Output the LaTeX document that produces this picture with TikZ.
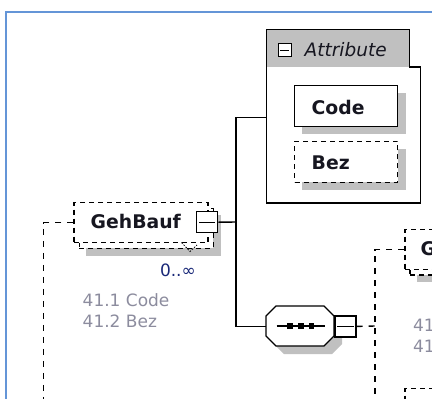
\documentclass[tikz,border=0pt]{standalone}
\usepackage{fontspec}
\setmainfont{DejaVu Sans}
\definecolor{framebl}{RGB}{100,149,215}
\definecolor{shgray}{RGB}{192,192,192}
\definecolor{tabgray}{RGB}{192,192,192}
\definecolor{txt}{RGB}{22,22,32}
\definecolor{navy}{RGB}{25,40,120}
\definecolor{labgray}{RGB}{140,140,158}
\begin{document}
\begin{tikzpicture}[x=1bp,y=-1bp,
  conn/.style={line width=1.4bp, draw=black},
  dconn/.style={line width=1.4bp, draw=black, dash pattern=on 6bp off 6bp},
  box/.style={rectangle, inner sep=0pt, anchor=north west, line width=1.4bp, fill=white, draw=black},
  dbox/.style={box, dash pattern=on 5bp off 4bp},
  shadowfill/.style={fill=shgray, draw=none},
  elname/.style={font=\fontsize{18.8bp}{22bp}\selectfont\bfseries, text=txt, inner sep=0pt, anchor=base west},
  lab/.style={font=\fontsize{17bp}{20bp}\selectfont, text=labgray, inner sep=0pt, anchor=base west},
  occ/.style={font=\fontsize{17bp}{20bp}\selectfont, text=navy, inner sep=0pt, anchor=base east},
  attrtitle/.style={font=\fontsize{18.5bp}{22bp}\selectfont\itshape, text=txt, inner sep=0pt, anchor=base west}
]
\useasboundingbox (0,0) rectangle (432,399);
\clip (0,0) rectangle (432,399);
\fill[white] (0,0) rectangle (432,399);

% outer blue frame
\draw[framebl, line width=2bp] (6.2,405) -- (6.2,11.8) -- (440,11.8);

% ---------- Attribute container ----------
\fill[tabgray] (266.7,29.3) rectangle (409.3,67);
\draw[conn] (266.7,203) -- (266.7,29.3) -- (409.3,29.3) -- (409.3,67) -- (420.7,67) -- (420.7,203) -- cycle;
\coordinate (attrIn) at (266.7,117.3);
\node[box, minimum size=13bp, line width=1.2bp] (attrM) at (277.5,43) {};
\draw[line width=1.2bp] ([xshift=2.5bp]attrM.west) -- ([xshift=-2.5bp]attrM.east);
\node[attrtitle] (attrT) at (304.5,56) {Attribute};

% Code attribute (required)
\fill[shadowfill] (302,93) rectangle (405.5,133.5);
\node[box, minimum width=103bp, minimum height=40.7bp] (code) at (294,85) {};
\node[elname] (codeT) at (311.5,114) {Code};

% Bez attribute (optional)
\fill[shadowfill] (302,148.7) rectangle (405.5,189.7);
\node[dbox, minimum width=103bp, minimum height=41bp] (bez) at (294,140.7) {};
\node[elname] (bezT) at (311.5,169.5) {Bez};

% ---------- GehBauf element (0..inf) ----------
\fill[shadowfill] (86,215) rectangle (220.5,255.5);
\node[dbox, minimum width=134bp, minimum height=40bp] (gehB) at (78.5,207.5) {};
\node[dbox, minimum width=134bp, minimum height=40bp] (geh) at (73.3,202) {};
\node[elname] (gehT) at (90.5,228.7) {GehBauf};
\draw[line width=0.8bp, dash pattern=on 1.5bp off 1.5bp] (181.5,242.5) -- (190,251.5) -- (197,245);
\node[box, minimum size=21bp] (gehM) at (196,211) {};
\draw[line width=1.4bp] ([xshift=3bp]gehM.west) -- ([xshift=-3bp]gehM.east);
\node[occ] (gehOcc) at (196,276.5) {0..∞};
\node[lab] (gehL1) at (82.5,306) {41.1 Code};
\node[lab] (gehL2) at (82.5,327.5) {41.2 Bez};

% ---------- sequence compositor ----------
\fill[shadowfill] (284,314) -- (332,314) -- (342,324) -- (342,344) -- (332,354) -- (284,354) -- (274,344) -- (274,324) -- cycle;
\node[rectangle, inner sep=0pt, minimum width=68bp, minimum height=40bp, anchor=north west] (seq) at (266,306) {};
\draw[conn, fill=white] (276,306) -- (324,306) -- (334,316) -- (334,336) -- (324,346) -- (276,346) -- (266,336) -- (266,316) -- cycle;
\draw[line width=1.4bp] (276.7,326) -- (325,326);
\foreach \px in {290,301,311.7} \fill (\px-2.6,323.4) rectangle (\px+2.6,328.6);
\node[box, minimum size=21bp] (seqM) at (334.2,315.2) {};
\draw[line width=1.4bp] ([xshift=3bp]seqM.west) -- ([xshift=-3bp]seqM.east);

% ---------- right-hand children (cut off) ----------
\fill[shadowfill] (417,242) rectangle (560,282);
\node[dbox, minimum width=134bp, minimum height=40bp] (g2B) at (409.2,234.2) {};
\node[dbox, minimum width=134bp, minimum height=40bp] (g2) at (404.2,229) {};
\node[elname] (g2T) at (420.5,255.5) {G};
\node[lab] (g2L1) at (412.8,331.5) {41};
\node[lab] (g2L2) at (412.8,352.5) {41};
\node[dbox, minimum width=134bp, minimum height=40bp] (g3) at (404.2,388) {};

% ---------- connectors ----------
\coordinate (j1) at (236,222);
\draw[conn] (gehM.east) -- (j1);
\draw[conn] (j1) |- (attrIn);
\draw[conn] (j1) |- (seq.west);

\coordinate (lbot) at (43.5,405);
\draw[dconn] (geh.west) -| (lbot);

\coordinate (j2) at (374.8,326);
\coordinate (rbot) at (374.8,405);
\draw[dconn] (seqM.east) -- (j2);
\draw[dconn] (g2.west) -| (rbot);
\end{tikzpicture}
\end{document}
